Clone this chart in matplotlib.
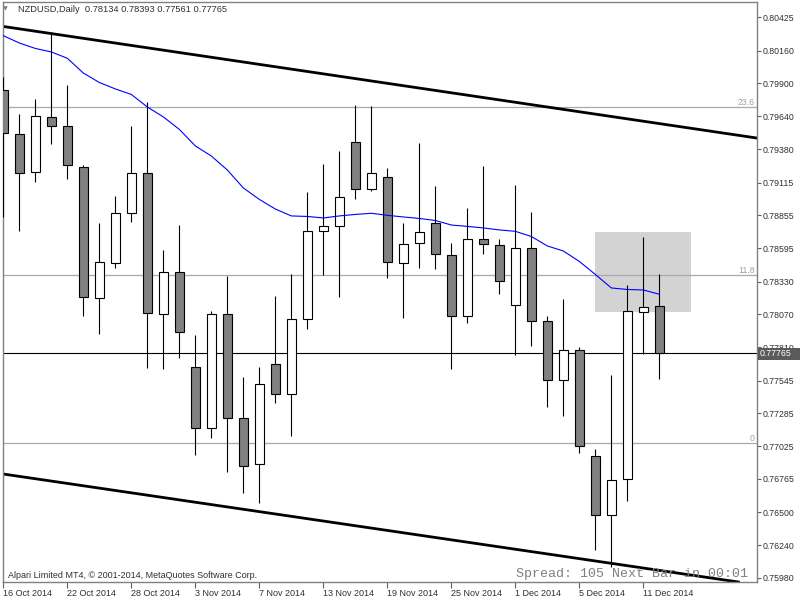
import matplotlib
matplotlib.use('Agg')
import matplotlib.pyplot as plt
from matplotlib.patches import Rectangle

# daily bars, 16 Oct 2014 .. 12 Dec 2014 (weekdays only)
opens = [0.79849, 0.79497, 0.79196, 0.79632, 0.79561, 0.79236, 0.78197, 0.78475,
         0.78871, 0.79188, 0.78070, 0.78403, 0.77650, 0.77171, 0.78070, 0.77246,
         0.76881, 0.77674, 0.77436, 0.78031, 0.78728, 0.78768, 0.79434, 0.79061,
         0.79157, 0.78475, 0.78633, 0.78792, 0.78538, 0.78055, 0.78665, 0.78617,
         0.78142, 0.78594, 0.78015, 0.77547, 0.77785, 0.76945, 0.76477, 0.76762,
         0.78086, 0.78134]
highs = [0.79954, 0.79658, 0.79777, 0.80311, 0.79888, 0.79252, 0.78794, 0.79008,
         0.79563, 0.79754, 0.78580, 0.78778, 0.77904, 0.78097, 0.78374, 0.77573,
         0.77653, 0.78215, 0.78390, 0.79040, 0.79262, 0.79365, 0.79730, 0.79724,
         0.79228, 0.78794, 0.79429, 0.79085, 0.78633, 0.78913, 0.79246, 0.78667,
         0.79096, 0.78881, 0.78057, 0.78192, 0.77811, 0.77000, 0.77589, 0.78303,
         0.78683, 0.78393]
lows = [0.78839, 0.78733, 0.79122, 0.79423, 0.79145, 0.78059, 0.77912, 0.78440,
        0.78805, 0.77647, 0.77633, 0.77726, 0.76955, 0.77092, 0.76823, 0.76656,
        0.76577, 0.77370, 0.77108, 0.77956, 0.78384, 0.78210, 0.78987, 0.79050,
        0.78361, 0.78043, 0.78440, 0.78432, 0.77633, 0.78004, 0.78551, 0.78235,
        0.77748, 0.77821, 0.77338, 0.77267, 0.76973, 0.76204, 0.76065, 0.76593,
        0.77756, 0.77561]
closes = [0.79505, 0.79188, 0.79640, 0.79561, 0.79252, 0.78205, 0.78483, 0.78871,
          0.79188, 0.78078, 0.78403, 0.77932, 0.77167, 0.78070, 0.77246, 0.76870,
          0.77515, 0.77436, 0.78031, 0.78728, 0.78768, 0.78998, 0.79061, 0.79188,
          0.78483, 0.78625, 0.78721, 0.78546, 0.78055, 0.78665, 0.78625, 0.78332,
          0.78594, 0.78015, 0.77547, 0.77785, 0.77029, 0.76477, 0.76754, 0.78094,
          0.78126, 0.77765]
# moving average
ma = [0.80279, 0.80221, 0.80178, 0.80150, 0.80100, 0.79983, 0.79908, 0.79857,
      0.79813, 0.79714, 0.79635, 0.79536, 0.79405, 0.79325, 0.79214, 0.79072,
      0.78981, 0.78905, 0.78850, 0.78846, 0.78834, 0.78850, 0.78862, 0.78871,
      0.78855, 0.78842, 0.78830, 0.78814, 0.78778, 0.78767, 0.78755, 0.78739,
      0.78728, 0.78687, 0.78612, 0.78572, 0.78489, 0.78386, 0.78279, 0.78267,
      0.78263, 0.78229]

date_labels = ['16 Oct 2014', '22 Oct 2014', '28 Oct 2014', '3 Nov 2014', '7 Nov 2014',
               '13 Nov 2014', '19 Nov 2014', '25 Nov 2014', '1 Dec 2014', '5 Dec 2014',
               '11 Dec 2014']
price_ticks = [0.80425, 0.80160, 0.79900, 0.79640, 0.79380, 0.79115, 0.78855, 0.78595,
               0.78330, 0.78070, 0.77810, 0.77545, 0.77285, 0.77025, 0.76765, 0.76500,
               0.76240, 0.75980]

# chart objects
upper_channel = [(0, 0.80352), (41, 0.79582)]
lower_channel = [(0, 0.76804), (41, 0.76040)]
fib_base = 0.77048
fib_range = 0.11288
fib_levels = [0.0, 11.8, 23.6]
box_bars = (37, 43)
box_prices = (0.78089, 0.78723)
last_price = 0.77765

fig = plt.figure(figsize=(8, 6), dpi=100)
ax = fig.add_axes([2.5 / 800, 18 / 600, 754.5 / 800, 580 / 600])
ax.set_xlim(-0.05, 47.1)
ax.set_ylim(0.75948, 0.80546)

ax.add_patch(Rectangle((box_bars[0], box_prices[0]), box_bars[1] - box_bars[0],
                       box_prices[1] - box_prices[0], facecolor='#d3d3d3',
                       edgecolor='none', zorder=0.5))

for lv in fib_levels:
    p = fib_base + fib_range * lv / 100
    ax.axhline(p, color='#a9a9a9', lw=0.9, zorder=1)
    ax.text(0.997, p + 0.00005, f'{lv:g}', transform=ax.get_yaxis_transform(),
            ha='right', va='bottom', fontsize=6.3, color='#a0a0a0',
            family='Liberation Sans')

ax.axhline(last_price, color='black', lw=0.8, zorder=1.5)

for line in (upper_channel, lower_channel):
    ax.axline(line[0], line[1], color='black', lw=2, zorder=2)

w = 0.56
for i in range(len(opens)):
    o, h, l, c = opens[i], highs[i], lows[i], closes[i]
    ax.vlines(i, l, h, color='black', lw=0.8, zorder=3)
    fc = 'white' if c >= o else '#808080'
    ax.add_patch(Rectangle((i - w / 2, min(o, c)), w, abs(c - o), facecolor=fc,
                           edgecolor='black', lw=0.8, zorder=4))

ax.plot(range(len(ma)), ma, color='blue', lw=0.8, zorder=5)

ax.yaxis.tick_right()
ax.set_yticks(price_ticks)
ax.set_yticklabels([f'{p:.5f}' for p in price_ticks])
ax.set_xticks(range(0, len(opens), 4))
ax.set_xticklabels(date_labels, ha='left')
ax.tick_params(axis='y', length=3, width=0.8, color='#606060', pad=1,
               labelsize=6.3, labelcolor='#303030')
ax.tick_params(axis='x', length=4, width=0.8, color='#606060', pad=1,
               labelsize=6.5, labelcolor='#303030')
for lab in ax.get_xticklabels() + ax.get_yticklabels():
    lab.set_family('Liberation Sans')
for sp in ax.spines.values():
    sp.set_color('#808080')
    sp.set_linewidth(1)

# current price label on the scale
fig.add_artist(Rectangle((758 / 800, 1 - 359.5 / 600), 42 / 800, 12 / 600,
                         transform=fig.transFigure, facecolor='#5a5a5a',
                         edgecolor='none', zorder=2))
fig.text(760 / 800, 1 - 353.5 / 600, f'{last_price:.5f}', color='white', fontsize=6.3,
         family='Liberation Sans', va='center', ha='left', zorder=3)

fig.text(3 / 800, 1 - 9 / 600, '\u25bc', fontsize=4.5, color='#808080', va='center',
         family='DejaVu Sans')
fig.text(18 / 800, 1 - 9.5 / 600,
         'NZDUSD,Daily  0.78134 0.78393 0.77561 0.77765',
         fontsize=6.7, color='#303030', va='center', family='Liberation Sans')
fig.text(8 / 800, 1 - 575 / 600,
         'Alpari Limited MT4, \u00a9 2001-2014, MetaQuotes Software Corp.',
         fontsize=6.5, color='#303030', va='center', family='Liberation Sans')
fig.text(748 / 800, 1 - 573.5 / 600, 'Spread: 105 Next Bar in 00:01',
         fontsize=9.6, color='#808080', va='center', ha='right', family='Liberation Mono')

fig.savefig('out.png', dpi=100)
